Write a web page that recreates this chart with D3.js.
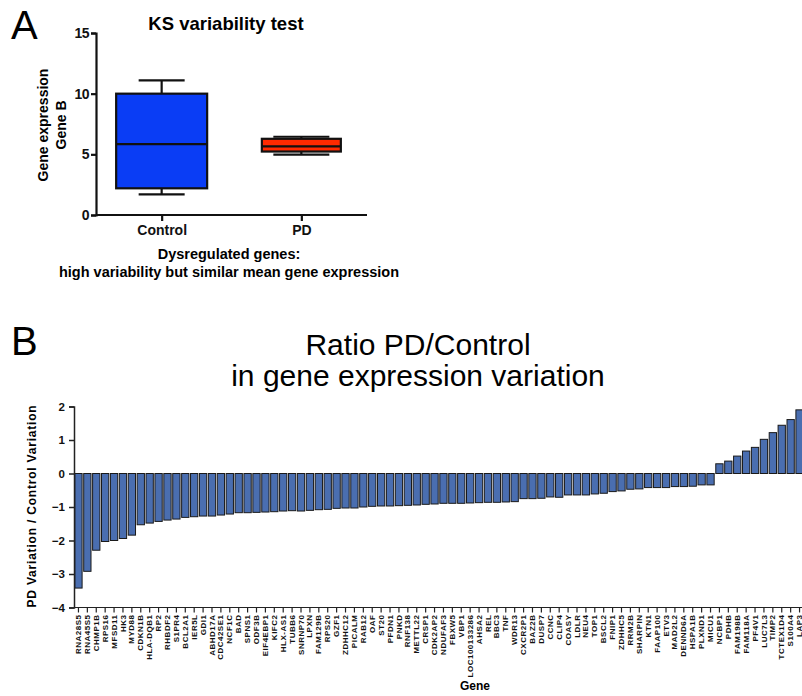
<!DOCTYPE html>
<html>
<head>
<meta charset="utf-8">
<script src="https://cdn.jsdelivr.net/npm/d3@7"></script>
<style>
  body { margin: 0; background: #fff; }
  svg { display: block; font-family: "Liberation Sans", Arial, Helvetica, sans-serif; }
</style>
</head>
<body>
<div id="chart"></div>
<script>
// Panel A data: box plot summary (min, q1, median, q3, max)
const groups = ["Control", "PD"];
const boxMin = [1.7, 4.98];
const boxQ1 = [2.2, 5.23];
const boxMedian = [5.84, 5.65];
const boxQ3 = [10.0, 6.28];
const boxMax = [11.1, 6.45];
const yTicksA = [0, 5, 10, 15];

// Panel B data: ratio PD/Control per gene
const genes = ["RNA28S5", "RNA45S5", "CHMP1B", "RPS16", "MFSD11", "HK3", "MYD88", "CDKN1B", "HLA-DQB1", "RP2",
  "RHBDF2", "S1PR4", "BCL2A1", "IER5L", "GDI1", "ABHD17A", "CDC42SE1", "NCF1C", "BAD", "SPNS1",
  "ODF3B", "EIF4EBP1", "KIFC2", "HLX-AS1", "TUBB6", "SNRNP70", "LPXN", "FAM129B", "RPS20", "GZF1",
  "ZDHHC12", "PICALM", "RAB12", "OAF", "ST20", "PFDN1", "PNKD", "RNF138", "METTL22", "CRSP1",
  "CDK2AP2", "NDUFAF3", "FBXW5", "VBP1", "LOC100133286", "AHSA2", "REL", "BBC3", "TNF", "WDR13",
  "CXCR2P1", "BAZ2B", "DUSP7", "CCNC", "CLIP4", "COASY", "LDLR", "NEU4", "TOP1", "BSCL2",
  "FNIP1", "ZDHHC5", "RRM2B", "SHARPIN", "KTN1", "FAAP100", "ETV3", "MAD2L2", "DENND6A", "HSPA1B",
  "PLXND1", "MICU1", "NCBP1", "PDHB", "FAM198B", "FAM118A", "PF4V1", "LUC7L3", "TIMP2", "TCTEX1D4",
  "S100A4", "LAP3"];
const ratios = [-3.42, -2.92, -2.29, -2.03, -2.0, -1.94, -1.84, -1.53, -1.48, -1.43,
  -1.39, -1.36, -1.31, -1.29, -1.27, -1.27, -1.24, -1.21, -1.17, -1.17,
  -1.16, -1.15, -1.14, -1.12, -1.11, -1.12, -1.10, -1.08, -1.07, -1.04,
  -1.03, -1.03, -1.00, -0.98, -0.97, -0.97, -0.96, -0.95, -0.94, -0.92,
  -0.91, -0.89, -0.89, -0.89, -0.88, -0.87, -0.86, -0.86, -0.85, -0.84,
  -0.75, -0.75, -0.74, -0.70, -0.71, -0.64, -0.64, -0.64, -0.61, -0.59,
  -0.54, -0.52, -0.47, -0.46, -0.42, -0.42, -0.42, -0.39, -0.39, -0.38,
  -0.34, -0.34, 0.29, 0.37, 0.52, 0.67, 0.78, 1.02, 1.22, 1.44,
  1.61, 1.90];
const yTicksB = [-4, -3, -2, -1, 0, 1, 2];

const svg = d3.select("#chart").append("svg")
  .attr("width", 802)
  .attr("height", 696);

// ---------- Panel A ----------
const gA = svg.append("g");

gA.append("text").attr("x", 11).attr("y", 39)
  .style("font-size", "40px").text("A");

gA.append("text").attr("x", 226).attr("y", 30)
  .attr("text-anchor", "middle").style("font-size", "18.5px").style("font-weight", "bold")
  .text("KS variability test");

const yA = d3.scaleLinear().domain([0, 15]).range([215, 33]);
const xA = d3.scalePoint().domain(groups).range([96, 367]).padding(0.47);
const boxW = { Control: 91, PD: 79 };
const capW = { Control: 46, PD: 56 };
const boxFill = { Control: "#0a3df5", PD: "#ff2a00" };

// whiskers, boxes, medians
groups.forEach((g, i) => {
  const cx = xA(g);
  const w = gA.append("g").attr("stroke", "#111").attr("stroke-width", 2.2);
  w.append("line").attr("x1", cx).attr("x2", cx).attr("y1", yA(boxMax[i])).attr("y2", yA(boxQ3[i]));
  w.append("line").attr("x1", cx).attr("x2", cx).attr("y1", yA(boxQ1[i])).attr("y2", yA(boxMin[i]));
  w.append("line").attr("x1", cx - capW[g] / 2).attr("x2", cx + capW[g] / 2).attr("y1", yA(boxMax[i])).attr("y2", yA(boxMax[i]));
  w.append("line").attr("x1", cx - capW[g] / 2).attr("x2", cx + capW[g] / 2).attr("y1", yA(boxMin[i])).attr("y2", yA(boxMin[i]));
  gA.append("rect")
    .attr("x", cx - boxW[g] / 2).attr("width", boxW[g])
    .attr("y", yA(boxQ3[i])).attr("height", yA(boxQ1[i]) - yA(boxQ3[i]))
    .attr("fill", boxFill[g]).attr("stroke", "#111").attr("stroke-width", 2.2);
  gA.append("line").attr("x1", cx - boxW[g] / 2).attr("x2", cx + boxW[g] / 2)
    .attr("y1", yA(boxMedian[i])).attr("y2", yA(boxMedian[i]))
    .attr("stroke", "#111").attr("stroke-width", 2.2);
});

// axes A
const axisYA = gA.append("g").attr("transform", "translate(96,0)")
  .call(d3.axisLeft(yA).tickValues(yTicksA).tickSize(5).tickPadding(2));
const axisXA = gA.append("g").attr("transform", "translate(0,215)")
  .call(d3.axisBottom(xA).tickSize(6).tickPadding(4));
axisXA.select(".domain").attr("d", "M96,0H367");
[axisYA, axisXA].forEach(a => {
  a.selectAll("path, line").attr("stroke", "#111").attr("stroke-width", 2.2);
  a.selectAll("text").attr("fill", "#111").style("font-size", "14px").style("font-weight", "bold")
    .style("font-family", "'Liberation Sans', Arial, sans-serif");
});
axisYA.selectAll("text").style("letter-spacing", "-0.5px");

gA.append("text").attr("transform", "translate(48,125) rotate(-90)")
  .attr("text-anchor", "middle").style("font-size", "14px").style("font-weight", "bold")
  .text("Gene expression");
gA.append("text").attr("transform", "translate(66,125) rotate(-90)")
  .attr("text-anchor", "middle").style("font-size", "14px").style("font-weight", "bold")
  .text("Gene B");

gA.append("text").attr("x", 229).attr("y", 259)
  .attr("text-anchor", "middle").style("font-size", "14.5px").style("font-weight", "bold")
  .text("Dysregulated genes:");
gA.append("text").attr("x", 229).attr("y", 277)
  .attr("text-anchor", "middle").style("font-size", "14.5px").style("font-weight", "bold")
  .text("high variability but similar mean gene expression");

// ---------- Panel B ----------
const gB = svg.append("g");

gB.append("text").attr("x", 11).attr("y", 355)
  .style("font-size", "40px").text("B");

gB.append("text").attr("x", 418).attr("y", 355)
  .attr("text-anchor", "middle").style("font-size", "30px")
  .text("Ratio PD/Control");
gB.append("text").attr("x", 418).attr("y", 386)
  .attr("text-anchor", "middle").style("font-size", "30px")
  .text("in gene expression variation");

const yB = d3.scaleLinear().domain([-4, 2]).range([607.5, 406.5]);
const xB = d3.scaleBand().domain(genes).range([74, 804]).paddingInner(0.18).paddingOuter(0.09);

gB.append("g").selectAll("rect")
  .data(genes)
  .join("rect")
  .attr("x", d => xB(d))
  .attr("width", xB.bandwidth())
  .attr("y", (d, i) => yB(Math.max(0, ratios[i])))
  .attr("height", (d, i) => Math.abs(yB(ratios[i]) - yB(0)))
  .attr("fill", "#4a6eb0")
  .attr("stroke", "#1a1a1a")
  .attr("stroke-width", 1);

const axisYB = gB.append("g").attr("transform", "translate(74,0)")
  .call(d3.axisLeft(yB).tickValues(yTicksB).tickSize(5).tickPadding(4).tickFormat(d3.format("")));
axisYB.selectAll("path, line").attr("stroke", "#222").attr("stroke-width", 1.5);
axisYB.selectAll("text").attr("fill", "#111").style("font-size", "11.5px").style("font-weight", "bold")
  .style("font-family", "'Liberation Sans', Arial, sans-serif");

const axisXB = gB.append("g").attr("transform", "translate(0,607.5)")
  .call(d3.axisBottom(xB).tickSize(5).tickPadding(3));
axisXB.select(".domain").attr("d", "M74,0H802");
axisXB.selectAll("path, line").attr("stroke", "#222").attr("stroke-width", 1.2);
axisXB.selectAll("text")
  .attr("fill", "#111")
  .style("font-size", "8px").style("font-weight", "bold")
  .style("letter-spacing", "0.5px")
  .style("font-family", "'Liberation Sans', Arial, sans-serif")
  .attr("text-anchor", "end")
  .attr("dy", "0.32em")
  .attr("transform", "translate(0,7) rotate(-90)")
  .attr("x", 0).attr("y", 0);

gB.append("text").attr("transform", "translate(36,506) rotate(-90)")
  .attr("text-anchor", "middle").style("font-size", "12px").style("font-weight", "bold")
  .style("letter-spacing", "0.8px")
  .text("PD Variation / Control Variation");

gB.append("text").attr("x", 475).attr("y", 690)
  .attr("text-anchor", "middle").style("font-size", "12px").style("font-weight", "bold")
  .text("Gene");
</script>
</body>
</html>
